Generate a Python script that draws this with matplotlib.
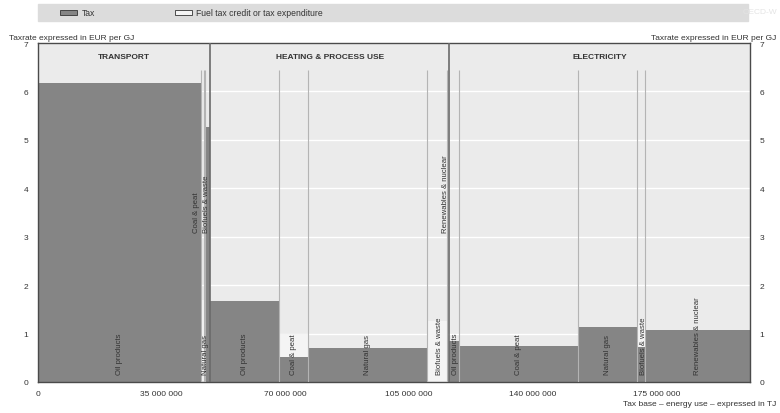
import matplotlib
matplotlib.use("Agg")
import matplotlib.pyplot as plt
from matplotlib.patches import Rectangle
import numpy as np

plt.rcParams["font.family"] = ["Liberation Sans Narrow", "Liberation Sans", "DejaVu Sans"]

# Tax base (million TJ) and tax rates (EUR per GJ)
sectors = ["TRANSPORT", "HEATING & PROCESS USE", "ELECTRICITY"]
fuels = [
    ["Oil products", "Coal & peat", "Natural gas", "Biofuels & waste"],
    ["Oil products", "Coal & peat", "Natural gas", "Biofuels & waste", "Renewables & nuclear"],
    ["Oil products", "Coal & peat", "Natural gas", "Biofuels & waste", "Renewables & nuclear"],
]
base_mtj = [
    [46.0, 0.85, 0.3, 1.5],
    [19.55, 8.2, 33.6, 5.6, 0.7],
    [2.8, 33.7, 16.6, 2.3, 29.7],
]
tax_rate = [
    [6.18, 0.0, 0.0, 5.27],
    [1.67, 0.52, 0.70, 0.0, 0.0],
    [0.85, 0.74, 1.13, 0.72, 1.07],
]
credit = [
    [0.0, 1.7, 0.0, 0.0],
    [0.0, 0.47, 0.0, 1.26, 0.0],
    [0.0, 0.0, 0.0, 0.52, 0.0],
]
x_ticks = [0, 35e6, 70e6, 105e6, 140e6, 175e6]
x_tick_labels = ["0", "35 000 000", "70 000 000", "105 000 000", "140 000 000", "175 000 000"]

# labels that sit higher up, and small sideways nudges (in M TJ) for the narrow bars
high_labels = {(0, 1), (0, 3), (1, 4)}
nudge = {(0, 1): -1.6, (0, 2): 0.3, (0, 3): -0.2, (1, 4): -0.6,
         (1, 3): 0.8, (2, 0): 0.5, (2, 3): 0.8}

TAX = "#858585"
BG = "#ebebeb"
FRAME = "#4a4a4a"

fig = plt.figure(figsize=(7.8, 4.14), dpi=100)
ax = fig.add_axes([38 / 780, 31 / 414, 712 / 780, 339 / 414])
ax.set_facecolor(BG)

# legend band at the top
fig.patches.append(Rectangle((38 / 780, 1 - 22 / 414), 710 / 780, 17 / 414,
                             transform=fig.transFigure, color="#dcdcdc", zorder=0))
fig.patches.append(Rectangle((60 / 780, 1 - 15.5 / 414), 17 / 780, 5 / 414,
                             transform=fig.transFigure, facecolor=TAX,
                             edgecolor="#333333", lw=0.6))
fig.text(82 / 780, 1 - 13 / 414, "Tax", fontsize=6.2, va="center", color="#333333")
fig.patches.append(Rectangle((175 / 780, 1 - 15.5 / 414), 17 / 780, 5 / 414,
                             transform=fig.transFigure, facecolor="#f4f4f4",
                             edgecolor="#333333", lw=0.6))
fig.text(196 / 780, 1 - 13 / 414, "Fuel tax credit or tax expenditure", fontsize=6.2,
         va="center", color="#333333")
fig.text(777 / 780, 1 - 13 / 414, "OECD-W", fontsize=6, va="center", ha="right",
         color="#e4e4e4")

start = 0.0
boundaries = []
dividers = []
for s, name in enumerate(sectors):
    widths = np.array(base_mtj[s]) * 1e6
    lefts = start + np.concatenate([[0], np.cumsum(widths)[:-1]])
    ax.bar(lefts, tax_rate[s], width=widths, align="edge", color=TAX, lw=0, zorder=2)
    ax.bar(lefts, credit[s], width=widths, bottom=tax_rate[s], align="edge",
           color="#f4f4f4", lw=0, zorder=2)
    for i, fuel in enumerate(fuels[s]):
        xc = lefts[i] + widths[i] / 2 + nudge.get((s, i), 0) * 1e6
        y0 = 3.1 if (s, i) in high_labels else 0.17
        ax.text(xc, y0, fuel, rotation=90, ha="center", va="bottom",
                fontsize=5.6, color="#333333", zorder=4)
    boundaries.extend(list(lefts[1:]))
    end = start + widths.sum()
    ax.text((start + end) / 2, 6.73, name, ha="center", va="center",
            fontsize=6.0, fontweight="bold", color="#333333")
    if s < len(sectors) - 1:
        dividers.append(end)
    start = end

ax.vlines(boundaries, 0, 6.45, color="#b4b4b4", lw=0.8, zorder=3)
ax.vlines(dividers, 0, 7, color="#6a6a6a", lw=1.2, zorder=3)

ax.set_xlim(0, start)
ax.set_ylim(0, 7)
ax.set_yticks(range(8))
ax.yaxis.grid(True, color="white", lw=1.0)
ax.set_axisbelow(True)
ax.set_xticks(x_ticks)
ax.set_xticklabels(x_tick_labels)
ax.tick_params(axis="x", length=0, pad=6, labelsize=6, labelcolor="#333333")
ax.tick_params(axis="y", length=0, pad=7, labelsize=6, labelcolor="#333333",
               labelright=True)
for sp in ax.spines.values():
    sp.set_color(FRAME)
    sp.set_linewidth(1.0)

fig.text(9 / 780, 1 - 38 / 414, "Taxrate expressed in EUR per GJ", fontsize=6,
         va="center", color="#333333")
fig.text(776 / 780, 1 - 38 / 414, "Taxrate expressed in EUR per GJ", fontsize=6,
         va="center", ha="right", color="#333333")
fig.text(776 / 780, 1 - 405 / 414, "Tax base \u2013 energy use \u2013 expressed in TJ",
         fontsize=6, va="center", ha="right", color="#333333")

fig.savefig("out.png", dpi=100, facecolor="white")
